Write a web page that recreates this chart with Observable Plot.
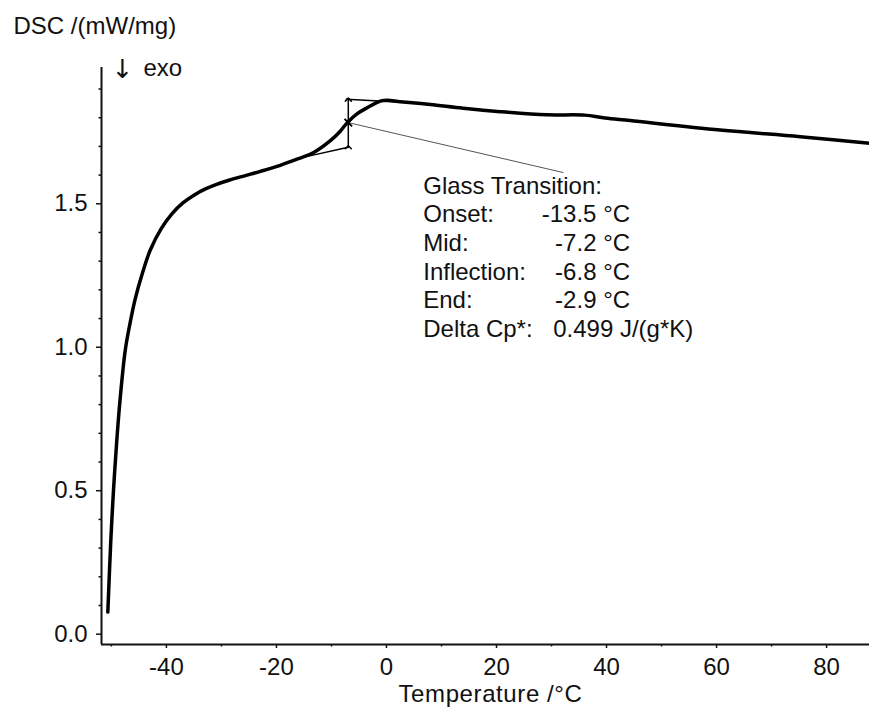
<!DOCTYPE html>
<html><head><meta charset="utf-8">
<script src="https://cdn.jsdelivr.net/npm/d3@7"></script>
<script src="https://cdn.jsdelivr.net/npm/@observablehq/plot@0.6"></script>
<style>body{margin:0;background:#fff} #chart{position:absolute;left:0;top:0}</style>
</head><body><div id="chart"></div>
<script>
// DSC curve (°C, mW/mg)
const temperature = [-50.65,-50.11,-49.62,-49.02,-48.44,-47.49,-46.6,-45.68,-44.3,-42.95,-41.0,-39.0,-37.0,-35.0,-33.0,-31.0,-28.5,-25.5,-22.9,-19.3,-16.02,-13.3,-10.2,-8.4,-7.12,-5.3,-3.49,-1.13,0.15,2.5,7.95,13.94,20.64,29.17,36.0,39.74,44.28,60.63,75.2,87.79];
const dsc = [0.077,0.326,0.501,0.675,0.814,0.989,1.085,1.168,1.262,1.338,1.412,1.465,1.503,1.530,1.551,1.567,1.583,1.599,1.613,1.634,1.657,1.678,1.720,1.753,1.783,1.814,1.835,1.858,1.861,1.856,1.846,1.833,1.821,1.810,1.809,1.799,1.790,1.757,1.734,1.711];

// axes
const xDomain = [-51.8, 87.8];
const yDomain = [-0.036, 1.975];
const xTicks = [-40,-20,0,20,40,60,80];
const xMinorTicks = [-50,-30,-10,10,30,50,70];
const yTicks = [0,0.5,1.0,1.5];
const yMinorTicks = [0.1,0.2,0.3,0.4,0.6,0.7,0.8,0.9,1.1,1.2,1.3,1.4,1.6,1.7,1.8,1.9];

// glass transition construction
const lowerTangentT = [-15.6, -6.94];
const lowerTangentV = [1.660, 1.697];
const upperTangentT = [-7.3, 2.0];
const upperTangentV = [1.864, 1.855];
const stepT = -6.94;
const stepV = [1.697, 1.863];
const midV = 1.783;
const leaderT = [-6.94, 32.1];
const leaderV = [1.783, 1.609];

// annotation text
const gtHeading = "Glass Transition:";
const gtLabels = ["Onset:", "Mid:", "Inflection:", "End:", "Delta Cp*:"];
const gtValues = ["-13.5 °C", "-7.2 °C", "-6.8 °C", "-2.9 °C", "0.499 J/(g*K)"];
const yTitle = "DSC /(mW/mg)";
const xTitle = "Temperature /°C";
const exoArrow = "↓";
const exoText = "exo";

// layout (not data)
const textT = 6.68, valueEndT = 44.28, valueStartT = 30.3;
const baseV = 1.535, lineStep = 0.0997;

const curve = temperature.map((t, i) => ({t, v: dsc[i]}));
const lowerLine = lowerTangentT.map((t, i) => ({t, v: lowerTangentV[i]}));
const upperLine = upperTangentT.map((t, i) => ({t, v: upperTangentV[i]}));
const leader = leaderT.map((t, i) => ({t, v: leaderV[i]}));
const rows = gtLabels.map((label, i) => ({label, value: gtValues[i], row: i + 1}));

const plot = Plot.plot({
  width: 869, height: 707,
  marginLeft: 101, marginRight: 0, marginTop: 67, marginBottom: 63,
  x: {domain: xDomain},
  y: {domain: yDomain},
  style: {fontFamily: "'Liberation Sans', Arial, sans-serif", fontSize: "24px", color: "#111", background: "#fff", overflow: "visible"},
  marks: [
    Plot.axisX(xTicks, {tickSize: 4, tickPadding: 9, label: null, strokeWidth: 1.5, tickFormat: d => String(d)}),
    Plot.axisX(xMinorTicks, {tickSize: 2.5, text: null, label: null, strokeWidth: 1.5}),
    Plot.axisY(yTicks, {tickSize: 5, tickPadding: 9, tickFormat: d3.format(".1f"), label: null, strokeWidth: 1.5}),
    Plot.axisY(yMinorTicks, {tickSize: 2.5, text: null, label: null, strokeWidth: 1.5}),
    Plot.ruleX([xDomain[0]], {strokeWidth: 2}),
    Plot.ruleY([yDomain[0]], {strokeWidth: 2}),
    Plot.line(leader, {x: "t", y: "v", stroke: "#555", strokeWidth: 1}),
    Plot.line(lowerLine, {x: "t", y: "v", stroke: "#000", strokeWidth: 1.5}),
    Plot.line(upperLine, {x: "t", y: "v", stroke: "#000", strokeWidth: 1.5}),
    Plot.link([{x: stepT, y1: stepV[0], y2: stepV[1]}], {x1: "x", x2: "x", y1: "y1", y2: "y2", stroke: "#000", strokeWidth: 1.5, markerStart: "arrow", markerEnd: "arrow"}),
    Plot.line(curve, {x: "t", y: "v", stroke: "#000", strokeWidth: 3.5, curve: "catmull-rom"}),
    Plot.dot([{t: stepT, v: midV}], {x: "t", y: "v", symbol: "times", r: 3.5, stroke: "#000", strokeWidth: 2}),
    Plot.text([gtHeading], {x: () => textT, y: () => baseV, text: d => d, textAnchor: "start", lineAnchor: "bottom", fill: "#111"}),
    Plot.text(rows, {x: () => textT, y: d => baseV - d.row * lineStep, text: "label", textAnchor: "start", lineAnchor: "bottom", fill: "#111"}),
    Plot.text(rows, {filter: d => d.value.endsWith("°C"), x: () => valueEndT, y: d => baseV - d.row * lineStep, text: "value", textAnchor: "end", lineAnchor: "bottom", fill: "#111"}),
    Plot.text(rows, {filter: d => !d.value.endsWith("°C"), x: () => valueStartT, y: d => baseV - d.row * lineStep, text: "value", textAnchor: "start", lineAnchor: "bottom", fill: "#111"}),
    Plot.text([yTitle], {frameAnchor: "top-left", dx: -88, dy: -34, text: d => d, textAnchor: "start", lineAnchor: "bottom", fill: "#111"}),
    Plot.text([exoArrow], {frameAnchor: "top-left", dx: 10, dy: 10, text: d => d, textAnchor: "start", lineAnchor: "bottom", fill: "#111", fontFamily: "'DejaVu Sans'", fontSize: 26}),
    Plot.text([exoText], {frameAnchor: "top-left", dx: 42, dy: 8, text: d => d, textAnchor: "start", lineAnchor: "bottom", fill: "#111"}),
    Plot.text([xTitle], {frameAnchor: "bottom", dx: 5, dy: 57, text: d => d, textAnchor: "middle", lineAnchor: "bottom", fill: "#111"})
  ]
});
d3.select(plot).selectAll("text").filter(function() { return this.textContent === xTitle; }).attr("letter-spacing", "0.6px");
document.getElementById("chart").append(plot);
</script>
</body></html>
